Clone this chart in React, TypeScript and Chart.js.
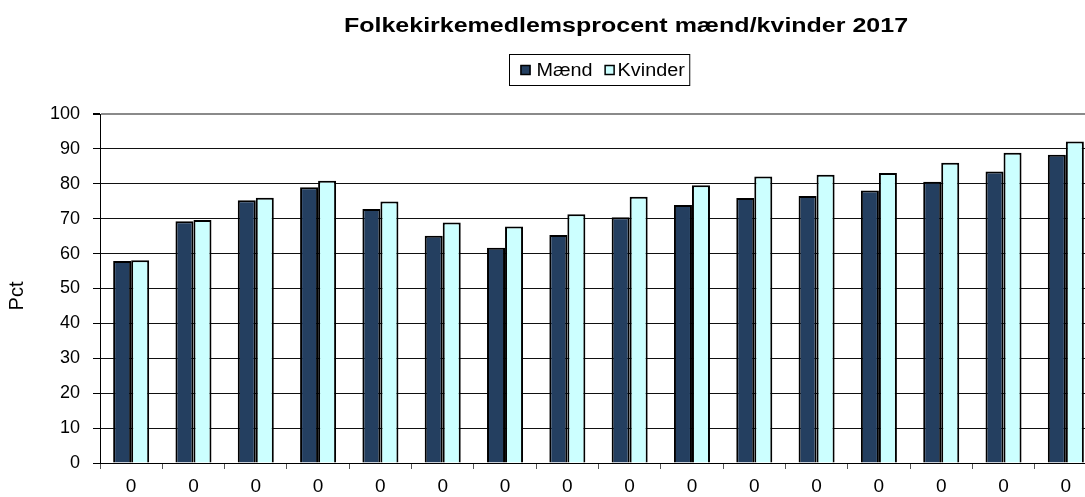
import React, { useEffect, useRef } from "react";
import { Chart, registerables } from "chart.js";

Chart.register(...registerables);

const TITLE = "Folkekirkemedlemsprocent mænd/kvinder 2017";
const Y_TITLE = "Pct";
const categories = ["0", "0", "0", "0", "0", "0", "0", "0", "0", "0", "0", "0", "0", "0", "0", "0"];
const seriesNames = ["Mænd", "Kvinder"];
const maend = [57.9, 69.3, 75.3, 79.0, 72.8, 65.1, 61.7, 65.3, 70.4, 73.9, 75.9, 76.5, 78.1, 80.6, 83.5, 88.3];
const kvinder = [58.1, 69.6, 76.0, 80.9, 74.9, 68.9, 67.8, 71.3, 76.3, 79.6, 82.1, 82.6, 83.1, 86.0, 88.9, 92.1];
const yTicks = [0, 10, 20, 30, 40, 50, 60, 70, 80, 90, 100];

const FONT = "'Liberation Sans', Arial, sans-serif";
const DARK = "#243F60";
const LIGHT = "#CCFFFF";

const decorPlugin = {
  id: "decor",
  afterDraw(chart: any) {
    const ctx = chart.ctx as CanvasRenderingContext2D;
    // Title (slightly widened like the reference)
    ctx.save();
    ctx.font = `bold 20px ${FONT}`;
    ctx.fillStyle = "#000";
    ctx.textBaseline = "alphabetic";
    ctx.textAlign = "center";
    ctx.translate(626, 32);
    ctx.scale(1.25, 1);
    ctx.fillText(TITLE, 0, 0);
    ctx.restore();

    // Y axis title
    ctx.save();
    ctx.font = `20px ${FONT}`;
    ctx.fillStyle = "#000";
    ctx.textAlign = "center";
    ctx.textBaseline = "middle";
    ctx.translate(17, 296);
    ctx.rotate(-Math.PI / 2);
    ctx.fillText(Y_TITLE, 0, 0);
    ctx.restore();

    // Legend with border
    ctx.save();
    ctx.font = `18px ${FONT}`;
    const ds = chart.data.datasets;
    const sx = 1.1;
    const sq = 10;
    const w0 = ctx.measureText(ds[0].label).width * sx;
    const w1 = ctx.measureText(ds[1].label).width * sx;
    const inner = sq + 6 + w0 + 12 + sq + 3 + w1;
    const boxW = inner + 11 + 5;
    const cx = 599;
    const bx = Math.round(cx - boxW / 2) + 0.5;
    const by = 54.5;
    const bh = 31;
    ctx.strokeStyle = "#000";
    ctx.lineWidth = 1;
    ctx.strokeRect(bx, by, boxW, bh);
    const cy = by + bh / 2;
    let x = bx + 11;
    const items = [
      { c: ds[0].backgroundColor, t: ds[0].label, w: w0, gap: 6 },
      { c: ds[1].backgroundColor, t: ds[1].label, w: w1, gap: 3 },
    ];
    items.forEach((it) => {
      ctx.fillStyle = it.c;
      ctx.fillRect(x, cy - sq / 2, sq, sq);
      ctx.strokeStyle = "#000";
      ctx.lineWidth = 1.5;
      ctx.strokeRect(x + 0.5, cy - sq / 2 + 0.5, sq - 1, sq - 1);
      x += sq + it.gap;
      ctx.save();
      ctx.fillStyle = "#000";
      ctx.textBaseline = "middle";
      ctx.textAlign = "left";
      ctx.translate(x, cy + 1);
      ctx.scale(sx, 1);
      ctx.fillText(it.t, 0, 0);
      ctx.restore();
      x += it.w + 12;
    });
    ctx.restore();
  },
};

export default function App() {
  const ref = useRef<HTMLCanvasElement | null>(null);
  useEffect(() => {
    if (!ref.current) return;
    const chart = new Chart(ref.current, {
      type: "bar",
      data: {
        labels: categories,
        datasets: [
          {
            label: seriesNames[0],
            data: maend,
            backgroundColor: DARK,
            borderColor: "#000",
            borderWidth: 2,
            categoryPercentage: 0.578,
            barPercentage: 1,
          },
          {
            label: seriesNames[1],
            data: kvinder,
            backgroundColor: LIGHT,
            borderColor: "#000",
            borderWidth: 2,
            categoryPercentage: 0.578,
            barPercentage: 1,
          },
        ],
      },
      options: {
        responsive: false,
        animation: false,
        layout: { padding: { top: 114, right: 13, left: 0, bottom: 0 } },
        plugins: {
          legend: { display: false },
          title: { display: false },
          tooltip: { enabled: false },
        },
        scales: {
          x: {
            afterFit: (s: any) => {
              s.height = 34;
            },
            grid: {
              offset: true,
              drawOnChartArea: false,
              tickLength: 6,
              tickColor: "#555",
            },
            border: { color: "#000", width: 1 },
            ticks: {
              color: "#000",
              font: { family: FONT, size: 19 },
              padding: 6,
              maxRotation: 0,
            },
          },
          y: {
            min: 0,
            max: 100,
            afterFit: (s: any) => {
              s.width = 100;
            },
            afterBuildTicks: (s: any) => {
              s.ticks = yTicks.map((v) => ({ value: v }));
            },
            grid: {
              color: (c: any) => (c.tick && c.tick.value === 100 ? "#8a8a8a" : "#111"),
              lineWidth: (c: any) => (c.tick && c.tick.value === 100 ? 2 : 1),
              tickLength: 7,
              tickColor: "#000",
            },
            border: { color: "#000", width: 1 },
            ticks: {
              color: "#000",
              font: { family: FONT, size: 18 },
              padding: 13,
            },
          },
        },
      },
      plugins: [decorPlugin],
    });
    return () => chart.destroy();
  }, []);

  return (
    <div
      style={{
        position: "fixed",
        left: 0,
        top: 0,
        width: 1085,
        height: 497,
        overflow: "hidden",
        background: "#fff",
      }}
    >
      <canvas
        ref={ref}
        width={1110}
        height={497}
        style={{ position: "absolute", left: 0, top: 0, width: 1110, height: 497 }}
      />
    </div>
  );
}
